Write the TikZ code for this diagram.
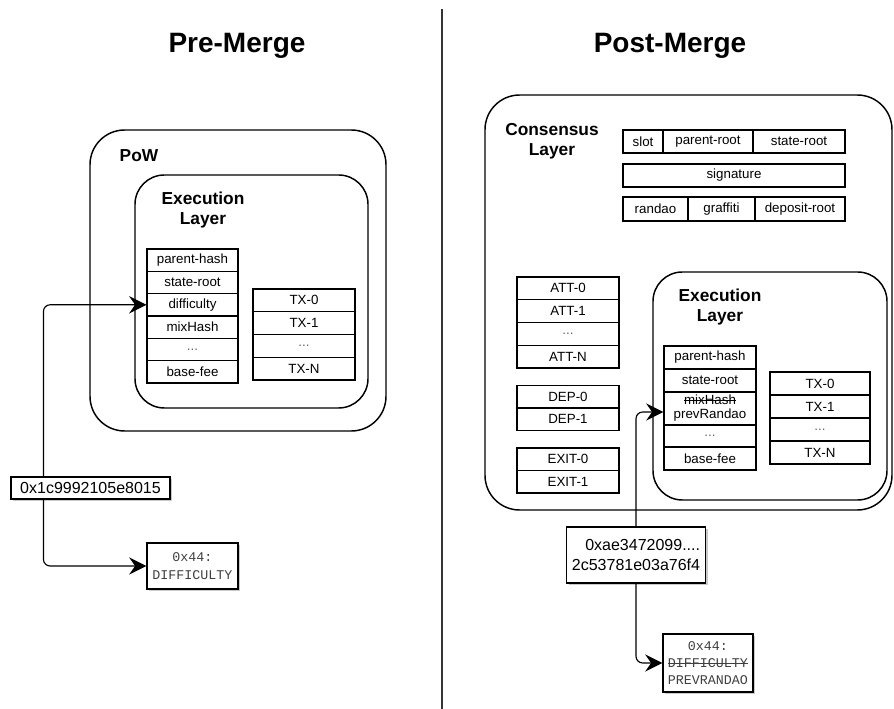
\documentclass[tikz,border=0pt]{standalone}
\usepackage{fontspec}
\setmainfont{Liberation Sans}
\setmonofont{Liberation Mono}
\usetikzlibrary{arrows.meta,shadows}
\newsavebox{\mystrkbox}
\newcommand{\mystrk}[1]{\leavevmode\sbox{\mystrkbox}{#1}\rlap{\rule[0.3em]{\wd\mystrkbox}{0.5pt}}\usebox{\mystrkbox}}
\tikzset{
  cell/.style={draw, line width=0.85pt, inner sep=0pt, align=center, font=\fontsize{10}{11}\selectfont},
  bw/.style={minimum width=#1*0.75pt},
  bh/.style={minimum height=#1*0.75pt},
  outerlayer/.style={draw, line width=1.1pt, rounded corners=26pt, inner sep=0pt},
  innerlayer/.style={draw, line width=1.1pt, rounded corners=22pt, inner sep=0pt},
  lbl/.style={align=center, font=\bfseries\fontsize{13}{15}\selectfont},
  ttl/.style={font=\bfseries\fontsize{21}{24}\selectfont},
  hexlbl/.style={draw, fill=white, line width=0.85pt, inner sep=0pt, align=right,
    font=\fontsize{12}{14.5}\selectfont,
    drop shadow={shadow xshift=1.8pt, shadow yshift=-1.8pt, fill=black!35, opacity=0.6}},
  opbox/.style={draw, fill=white, line width=0.85pt, inner sep=0pt, align=center,
    font=\ttfamily\fontsize{10}{13}\selectfont, text=black!75,
    drop shadow={shadow xshift=1.8pt, shadow yshift=-1.8pt, fill=black!35, opacity=0.6}},
  conn/.style={line width=0.85pt, rounded corners=5pt, -{Stealth[length=13pt,width=13pt,inset=4.5pt]}},
  dots/.style={text=black!60}
}
\begin{document}
\begin{tikzpicture}[x=0.75pt, y=-0.75pt]
\useasboundingbox (0,0) rectangle (894,709);

% divider
\coordinate (dtop) at (442,9);
\coordinate (dbot) at (442,709);
\draw[line width=0.9pt, black!80] (dtop) -- (dbot);

% titles
\node[ttl, anchor=base] (pre) at (237,53) {Pre-Merge};
\node[ttl, anchor=base] (post) at (670,53) {Post-Merge};

% ===== Pre-Merge =====
\node[outerlayer, bw=296, bh=301] (pow) at (238,280.5) {};
\node[lbl, anchor=base west] (powlbl) at (115,162) {PoW};
\node[innerlayer, bw=233, bh=233] (exl) at (251.5,291.5) {};
\node[lbl] (exllbl) at (203,210) {Execution\\Layer};

\node[cell, bw=91, bh=22.33] (lph) at (192.5,260.2) {parent-hash};
\node[cell, bw=91, bh=22.33] (lsr) at (192.5,282.5) {state-root};
\node[cell, bw=91, bh=22.33] (ldf) at (192.5,304.8) {difficulty};
\node[cell, bw=91, bh=22.33] (lmh) at (192.5,327.2) {mixHash};
\node[cell, bw=91, bh=22.33, dots] (ldt) at (192.5,349.5) {...};
\node[cell, bw=91, bh=22.33] (lbf) at (192.5,371.8) {base-fee};

\node[cell, bw=102, bh=22.75] (ltx0) at (304,300.4) {TX-0};
\node[cell, bw=102, bh=22.75] (ltx1) at (304,323.1) {TX-1};
\node[cell, bw=102, bh=22.75, dots] (ltxd) at (304,345.9) {...};
\node[cell, bw=102, bh=22.75] (ltxn) at (304,368.6) {TX-N};

\node[hexlbl, bw=159, bh=22, align=center] (hex1) at (90.5,488) {0x1c9992105e8015};
\node[opbox, bw=91, bh=46] (op1) at (192.5,566) {0x44:\\DIFFICULTY};

\draw[conn] ([xshift=33*0.75pt]hex1.north west) |- (ldf.west);
\draw[conn] ([xshift=33*0.75pt]hex1.south west) |- (op1.west);

% ===== Post-Merge =====
\node[outerlayer, bw=407, bh=415] (cl) at (688.5,302.5) {};
\node[lbl] (cllbl) at (552,141) {Consensus\\Layer};

\node[cell, bw=40, bh=23] (slot) at (643,141.5) {slot};
\node[cell, bw=90, bh=23] (proot) at (708,141.5) {parent-root};
\node[cell, bw=92, bh=23] (sroot) at (799,141.5) {state-root};
\node[cell, bw=222, bh=23] (sig) at (734,175.5) {signature};
\node[cell, bw=65, bh=24] (rnd) at (655.5,209) {randao};
\node[cell, bw=67, bh=24] (graf) at (721.5,209) {graffiti};
\node[cell, bw=90, bh=24] (dep) at (800,209) {deposit-root};

\node[cell, bw=102, bh=22.75] (att0) at (568,288.4) {ATT-0};
\node[cell, bw=102, bh=22.75] (att1) at (568,311.1) {ATT-1};
\node[cell, bw=102, bh=22.75, dots] (attd) at (568,333.9) {...};
\node[cell, bw=102, bh=22.75] (attn) at (568,356.6) {ATT-N};

\node[cell, bw=102, bh=22.5] (dep0) at (568,396.5) {DEP-0};
\node[cell, bw=102, bh=22.5] (dep1) at (568,419.25) {DEP-1};

\node[cell, bw=102, bh=22.5] (ex0) at (568,459.25) {EXIT-0};
\node[cell, bw=102, bh=22.5] (ex1) at (568,481.75) {EXIT-1};

\node[innerlayer, bw=234, bh=228] (exr) at (770,386) {};
\node[lbl] (exrlbl) at (720,307.5) {Execution\\Layer};

\node[cell, bw=92, bh=23] (rph) at (710,357.5) {parent-hash};
\node[cell, bw=92, bh=23] (rsr) at (710,380.5) {state-root};
\node[cell, bw=92, bh=33, font=\fontsize{10}{10.5}\selectfont] (rmh) at (710,408.5) {\mystrk{mixHash}\\prevRandao};
\node[cell, bw=92, bh=22, dots] (rdt) at (710,436) {...};
\node[cell, bw=92, bh=23] (rbf) at (710,458.5) {base-fee};

\node[cell, bw=100, bh=23] (rtx0) at (820,383.5) {TX-0};
\node[cell, bw=100, bh=23] (rtx1) at (820,406.5) {TX-1};
\node[cell, bw=100, bh=23, dots] (rtxd) at (820,429.5) {...};
\node[cell, bw=100, bh=23] (rtxn) at (820,452.5) {TX-N};

\node[hexlbl, bw=136, bh=56, inner xsep=4pt] (hex2) at (636,555) {0xae3472099....\\2c53781e03a76f4};
\node[opbox, bw=90, bh=58] (op2) at (708,663) {0x44:\\\mystrk{DIFFICULTY}\\PREVRANDAO};

\draw[conn] (hex2.north) |- ([yshift=-3.5*0.75pt]rmh.west);
\draw[conn] (hex2.south) |- (op2.west);
\end{tikzpicture}
\end{document}
